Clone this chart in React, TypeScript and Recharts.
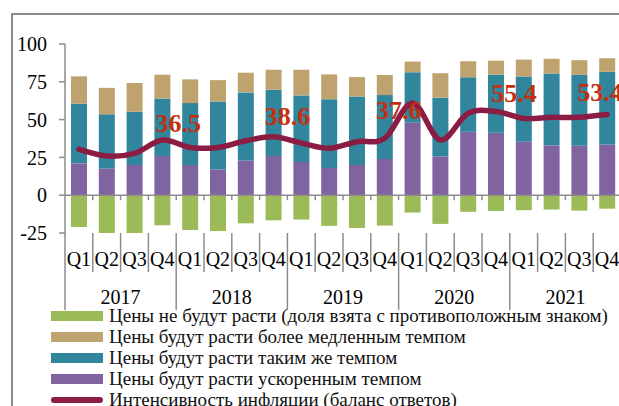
import React from 'react';
import { ComposedChart, Bar, Line, XAxis, YAxis, LabelList, ReferenceLine } from 'recharts';

const years = ['2017', '2018', '2019', '2020', '2021'];
const quarters = ['Q1', 'Q2', 'Q3', 'Q4'];

// shares of answers, %
const accelerating = [21, 17.7, 20, 26, 20, 17, 23, 26, 22, 18, 20, 24, 48, 25.6, 42, 41.3, 35.4, 33, 32.7, 33.6];
const sameRate = [39.6, 35.8, 35.2, 38, 40.9, 45, 45, 43.8, 44, 45.5, 45.3, 42.2, 33.3, 38.9, 36, 38.5, 43.1, 47.5, 46.9, 48];
const slower = [18, 17.5, 19, 15.7, 15.7, 14.1, 13, 13.2, 17, 16.4, 12.8, 13.3, 7.1, 16.2, 10.6, 9.2, 11.2, 9.7, 9.7, 9];
const noGrowth = [-21, -26.5, -25.4, -19.9, -23, -23.7, -18.6, -16.6, -16.1, -20.3, -21.7, -20.1, -11.5, -19, -11, -10.4, -9.9, -9.5, -10.2, -8.9];
const balance = [30.3, 25.9, 27.6, 36.5, 31.6, 31.6, 36, 38.6, 34.5, 31, 35.4, 37.6, 61, 36.5, 54.2, 55.4, 50.8, 51.5, 51.5, 53.4];

const yTicks = [-25, 0, 25, 50, 75, 100];

const seriesNames = {
  noGrowth: 'Цены не будут расти (доля взята с противоположным знаком)',
  slower: 'Цены будут расти более медленным темпом',
  sameRate: 'Цены будут расти таким же темпом',
  accelerating: 'Цены будут расти ускоренным темпом',
  balance: 'Интенсивность инфляции (баланс ответов)',
};

const colors = {
  noGrowth: '#9BBB59',
  slower: '#BEA36F',
  sameRate: '#31859C',
  accelerating: '#8064A2',
  balance: '#8B1C44',
  label: '#C4300F',
  axis: '#8c8c8c',
};

const data = years.flatMap((year, yi) =>
  quarters.map((q, qi) => {
    const i = yi * 4 + qi;
    return {
      key: `${year} ${q}`,
      year,
      quarter: q,
      accelerating: accelerating[i],
      sameRate: sameRate[i],
      slower: slower[i],
      noGrowth: noGrowth[i],
      balance: balance[i],
    };
  })
);

// layout constants
const CHART_W = 640;
const CHART_H = 406;
const PLOT_TOP = 44;
const PLOT_LEFT = 65;
const PLOT_RIGHT_MARGIN = 19;
const X_AXIS_H = 173;
const PLOT_BOTTOM = CHART_H - X_AXIS_H;
const PLOT_W = CHART_W - PLOT_LEFT - PLOT_RIGHT_MARGIN;
const BAND = PLOT_W / data.length;
const ZERO_Y = PLOT_TOP + ((PLOT_BOTTOM - PLOT_TOP) * 100) / 125;
const FONT = '"Liberation Serif", "Times New Roman", serif';

// Excel-like smoothed line (Catmull-Rom through every point)
const smoothCurve = (context: any) => {
  let pts: number[][] = [];
  return {
    areaStart() {},
    areaEnd() {},
    lineStart() {
      pts = [];
    },
    lineEnd() {
      if (!pts.length) return;
      context.moveTo(pts[0][0], pts[0][1]);
      for (let i = 0; i < pts.length - 1; i++) {
        const p0 = pts[i - 1] || pts[i];
        const p1 = pts[i];
        const p2 = pts[i + 1];
        const p3 = pts[i + 2] || p2;
        context.bezierCurveTo(
          p1[0] + (p2[0] - p0[0]) / 6,
          p1[1] + (p2[1] - p0[1]) / 6,
          p2[0] - (p3[0] - p1[0]) / 6,
          p2[1] - (p3[1] - p1[1]) / 6,
          p2[0],
          p2[1]
        );
      }
    },
    point(x: number, y: number) {
      pts.push([+x, +y]);
    },
  };
};

const CategoryTick = (props: any) => {
  const { x, index } = props;
  const row = data[index];
  if (!row) return null;
  const left = x - BAND / 2;
  const isYearStart = row.quarter === 'Q1';
  return (
    <g>
      {index === 0 && <line x1={PLOT_LEFT} x2={PLOT_LEFT} y1={PLOT_BOTTOM} y2={310} stroke={colors.axis} strokeWidth={1.5} />}
      {index > 0 && (
        <>
          <line x1={left} x2={left} y1={ZERO_Y} y2={ZERO_Y + 5} stroke={colors.axis} strokeWidth={1.5} />
          <line x1={left} x2={left} y1={PLOT_BOTTOM} y2={isYearStart ? 310 : 272} stroke={colors.axis} strokeWidth={1.5} />
        </>
      )}
      <text x={x} y={259} textAnchor="middle" dominantBaseline="central" fontFamily={FONT} fontSize={20} fill="#000">
        {row.quarter}
      </text>
      {row.quarter === 'Q2' && (
        <text x={x + BAND / 2} y={297} textAnchor="middle" dominantBaseline="central" fontFamily={FONT} fontSize={20} fill="#000">
          {row.year}
        </text>
      )}
    </g>
  );
};

const labelShift: Record<string, [number, number]> = {
  '2017': [16, -17],
  '2018': [14, -20],
  '2019': [14, -28],
  '2020': [18, -18],
  '2021': [-7, -22],
};

const BalanceLabel = (props: any) => {
  const { x, y, value, index } = props;
  const row = data[index];
  if (!row || row.quarter !== 'Q4') return null;
  const [dx, dy] = labelShift[row.year];
  return (
    <text x={x + dx} y={y + dy} textAnchor="middle" dominantBaseline="central" fontFamily={FONT} fontSize={26} fontWeight="bold" fill={colors.label}>
      {Number(value).toFixed(1)}
    </text>
  );
};

const legendOrder: (keyof typeof seriesNames)[] = ['noGrowth', 'slower', 'sameRate', 'accelerating', 'balance'];

export default function App() {
  return (
    <div style={{ position: 'fixed', left: 0, top: 0, width: 619, height: 406, overflow: 'hidden', background: '#fff' }}>
      <div
        style={{
          position: 'absolute',
          left: 11,
          top: 13,
          width: 700,
          height: 500,
          border: `2px solid ${colors.axis}`,
          boxSizing: 'border-box',
        }}
      />
      <div style={{ position: 'absolute', left: 0, top: 0 }}>
        <ComposedChart
          width={CHART_W}
          height={CHART_H}
          data={data}
          stackOffset="sign"
          barSize={16}
          margin={{ top: PLOT_TOP, right: PLOT_RIGHT_MARGIN, bottom: 0, left: 0 }}
        >
          <XAxis
            dataKey="key"
            interval={0}
            height={X_AXIS_H}
            axisLine={false}
            tickLine={false}
            tick={<CategoryTick />}
          />
          <YAxis
            width={PLOT_LEFT}
            domain={[-25, 100]}
            ticks={yTicks}
            allowDataOverflow
            axisLine={{ stroke: colors.axis, strokeWidth: 1.5 }}
            tickLine={{ stroke: colors.axis, strokeWidth: 1.5 }}
            tickSize={6}
            tickMargin={12}
            tick={{ fontSize: 20, fill: '#000', fontFamily: FONT }}
          />
          <Bar dataKey="accelerating" stackId="a" fill={colors.accelerating} isAnimationActive={false} />
          <Bar dataKey="sameRate" stackId="a" fill={colors.sameRate} isAnimationActive={false} />
          <Bar dataKey="slower" stackId="a" fill={colors.slower} isAnimationActive={false} />
          <Bar dataKey="noGrowth" stackId="a" fill={colors.noGrowth} isAnimationActive={false} />
          <ReferenceLine y={0} stroke={colors.axis} strokeWidth={1.5} />
          <Line
            dataKey="balance"
            stroke="none"
            dot={false}
            activeDot={false}
            legendType="none"
            isAnimationActive={false}
          >
            <LabelList dataKey="balance" content={<BalanceLabel />} />
          </Line>
          <Line
            type={smoothCurve as any}
            dataKey="balance"
            stroke={colors.balance}
            strokeWidth={5.5}
            strokeLinecap="round"
            dot={false}
            activeDot={false}
            isAnimationActive={false}
          />
        </ComposedChart>
      </div>
      <div style={{ position: 'absolute', left: 51, top: 305, fontFamily: FONT, fontSize: 19, color: '#111' }}>
        {legendOrder.map((k) => (
          <div key={k} style={{ display: 'flex', alignItems: 'center', height: 21, whiteSpace: 'nowrap' }}>
            {k === 'balance' ? (
              <span style={{ width: 52, height: 6, borderRadius: 3, background: colors[k], display: 'inline-block' }} />
            ) : (
              <span style={{ width: 52, height: 10, background: colors[k], display: 'inline-block' }} />
            )}
            <span style={{ marginLeft: 6, lineHeight: '21px' }}>{seriesNames[k]}</span>
          </div>
        ))}
      </div>
    </div>
  );
}
